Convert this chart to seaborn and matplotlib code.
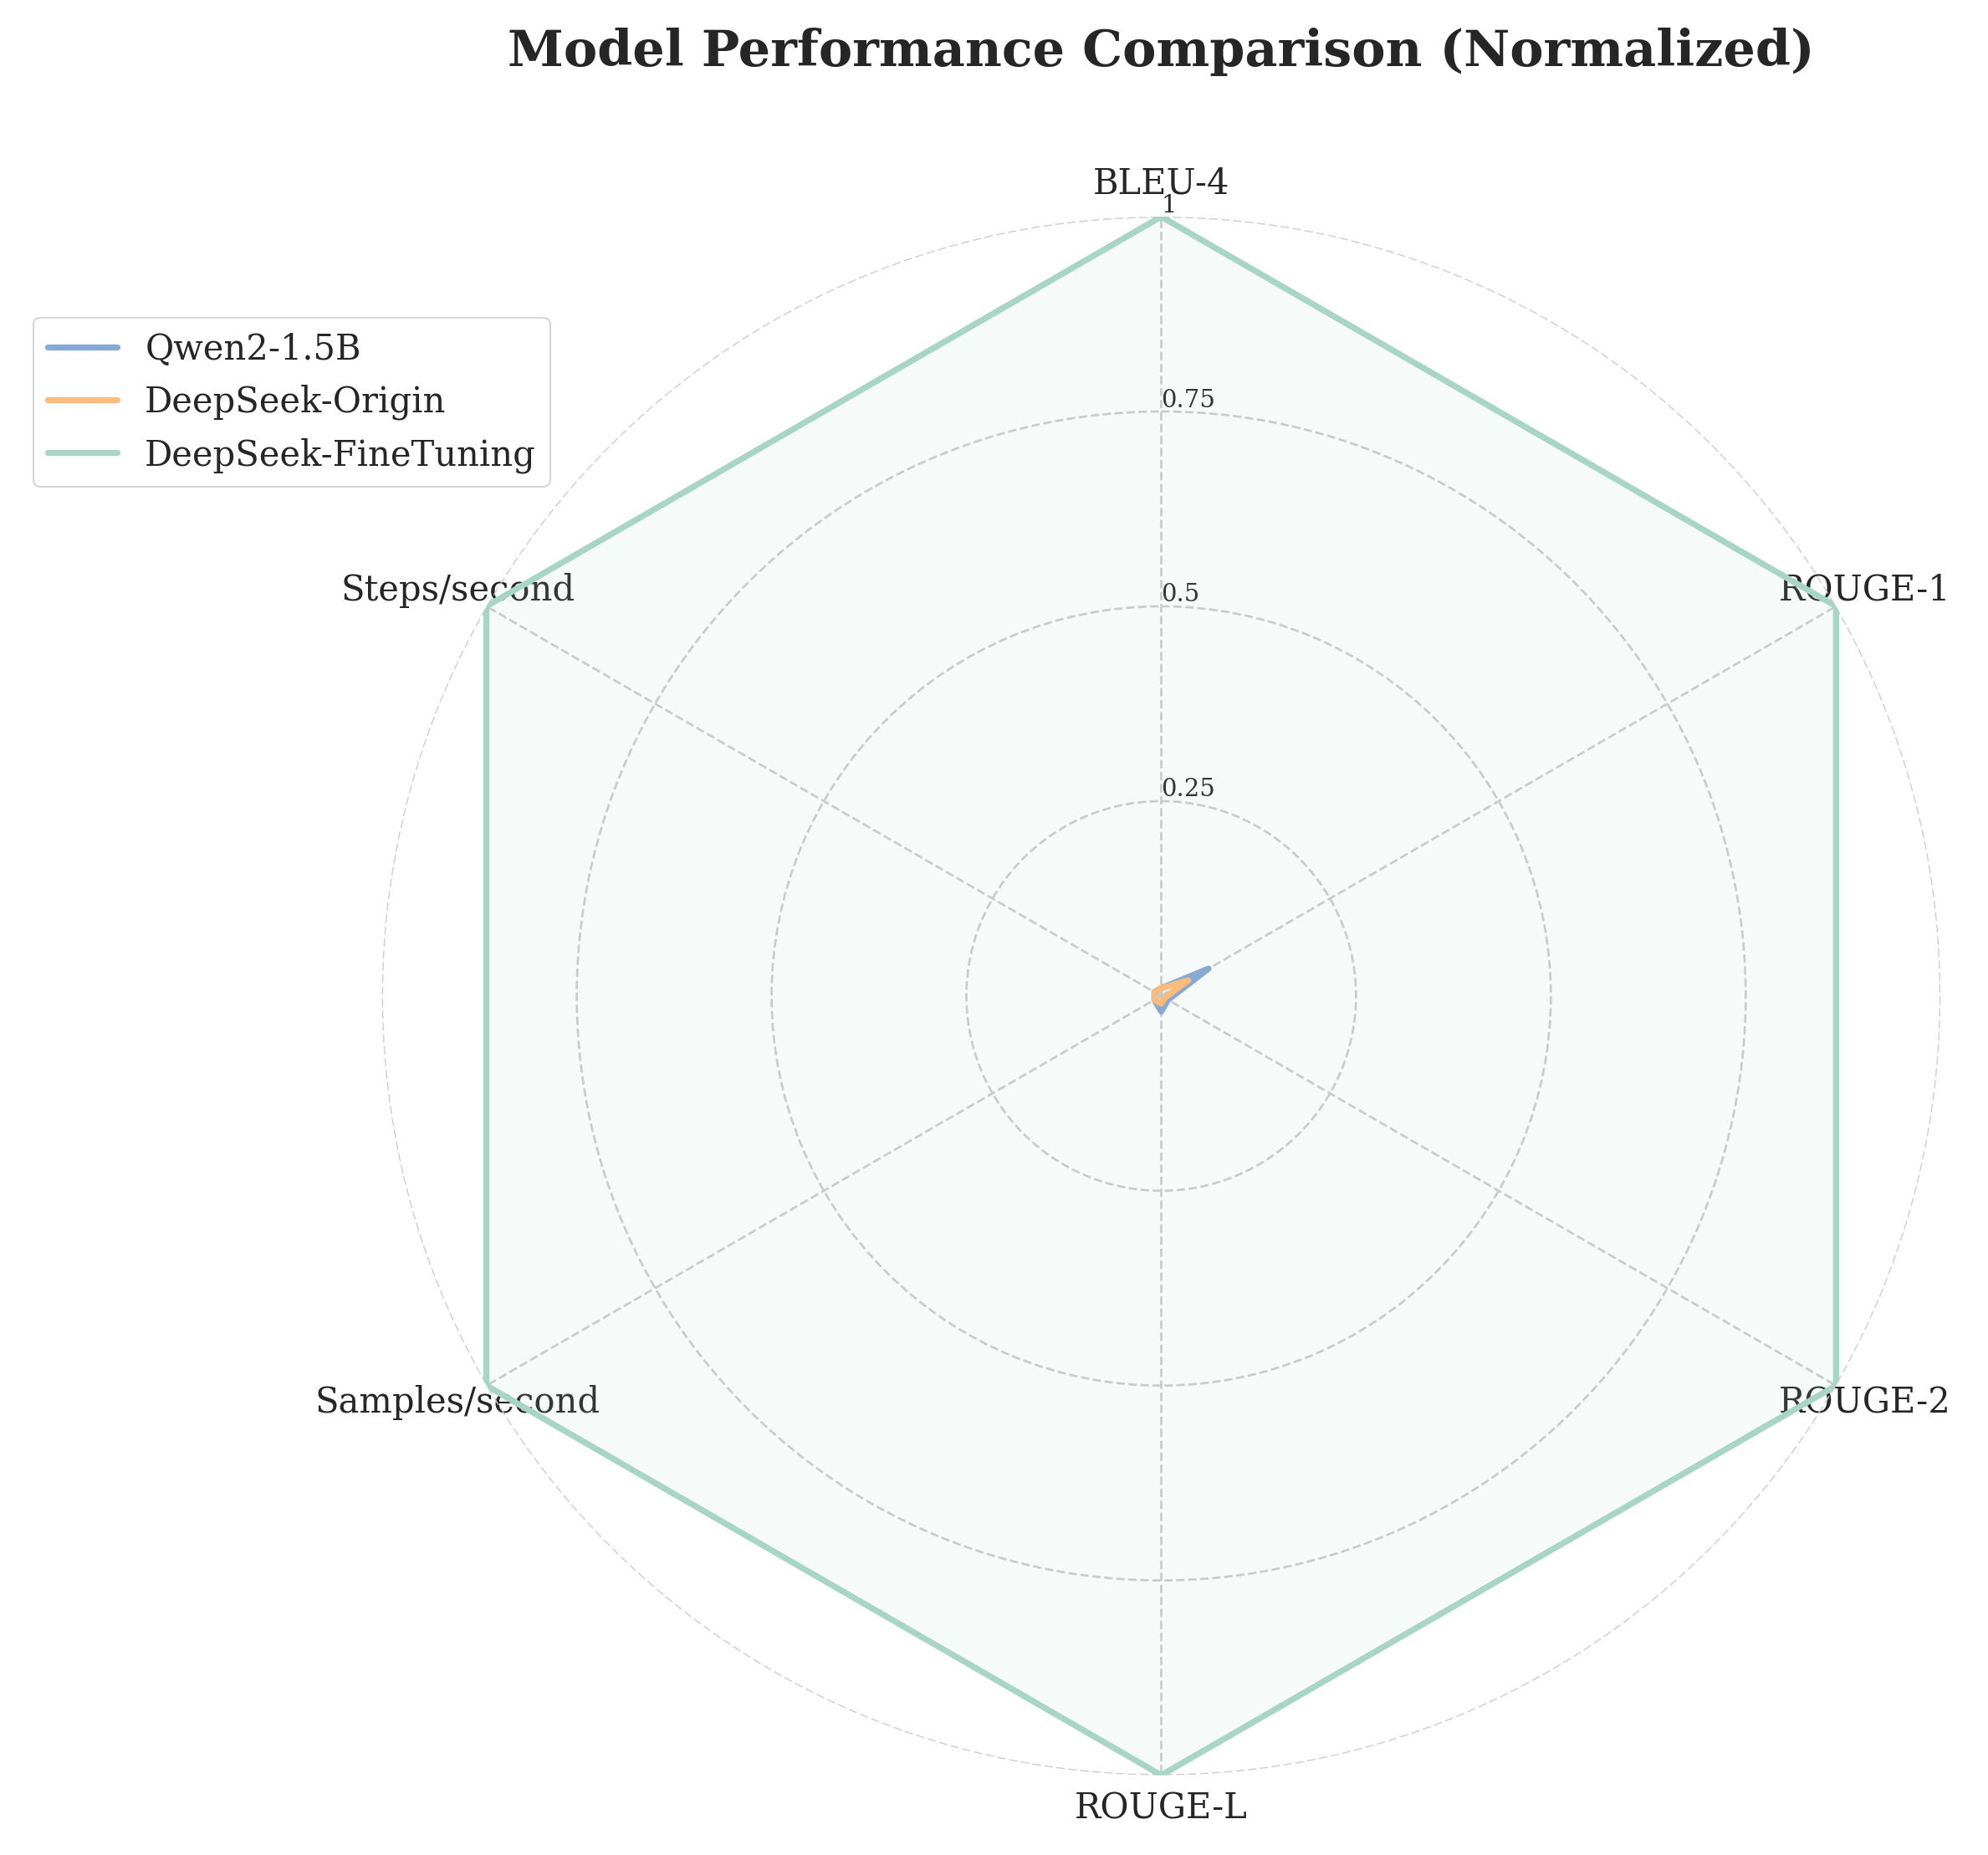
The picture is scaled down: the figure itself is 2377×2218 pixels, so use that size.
import numpy as np
import matplotlib.pyplot as plt
import seaborn as sns

sns.set_theme(style="white")
plt.rcParams['font.family'] = ['DejaVu Serif']

metrics = ['BLEU-4', 'ROUGE-1', 'ROUGE-2', 'ROUGE-L', 'Samples/second', 'Steps/second']
models = ['Qwen2-1.5B', 'DeepSeek-Origin', 'DeepSeek-FineTuning']
qwen = [0.01, 0.07, 0.01, 0.02, 0.01, 0.01]
origin = [0.01, 0.04, 0.005, 0.01, 0.01, 0.01]
finetune = [1.0, 1.0, 1.0, 1.0, 1.0, 1.0]
colors = ['#88a9d4', '#fbbb7d', '#a8d5c6']

angles = np.linspace(0, 2 * np.pi, len(metrics), endpoint=False).tolist()
angles += angles[:1]

fig = plt.figure(figsize=(15.85, 14.79), dpi=150)
ax = fig.add_axes([0.192, 0.043, 0.784, 0.84], polar=True)
ax.set_theta_offset(np.pi / 2)
ax.set_theta_direction(-1)

for name, vals, c in zip(models, [qwen, origin, finetune], colors):
    v = vals + vals[:1]
    ax.plot(angles, v, color=c, linewidth=3.5, label=name)
    ax.fill(angles, v, color=c, alpha=0.1)

ax.set_ylim(0, 1)
ax.set_xticks(angles[:-1])
ax.set_xticklabels(metrics, fontsize=20)
ax.tick_params(axis='x', pad=6)
ax.set_yticks([0.25, 0.5, 0.75, 1.0])
ax.set_yticklabels(['0.25', '0.5', '0.75', '1'], fontsize=14)
ax.set_rlabel_position(0)
ax.grid(True, linestyle='--', color='#cccccc', linewidth=1.3)
ax.spines['polar'].set_visible(False)

fig.suptitle('Model Performance Comparison (Normalized)', fontsize=29,
             fontweight='bold', x=0.584, y=0.985)
handles, labels = ax.get_legend_handles_labels()
fig.legend(handles, labels, loc='upper left', bbox_to_anchor=(0.008, 0.838),
           fontsize=20, frameon=True)

fig.savefig('out.png', dpi=150)
